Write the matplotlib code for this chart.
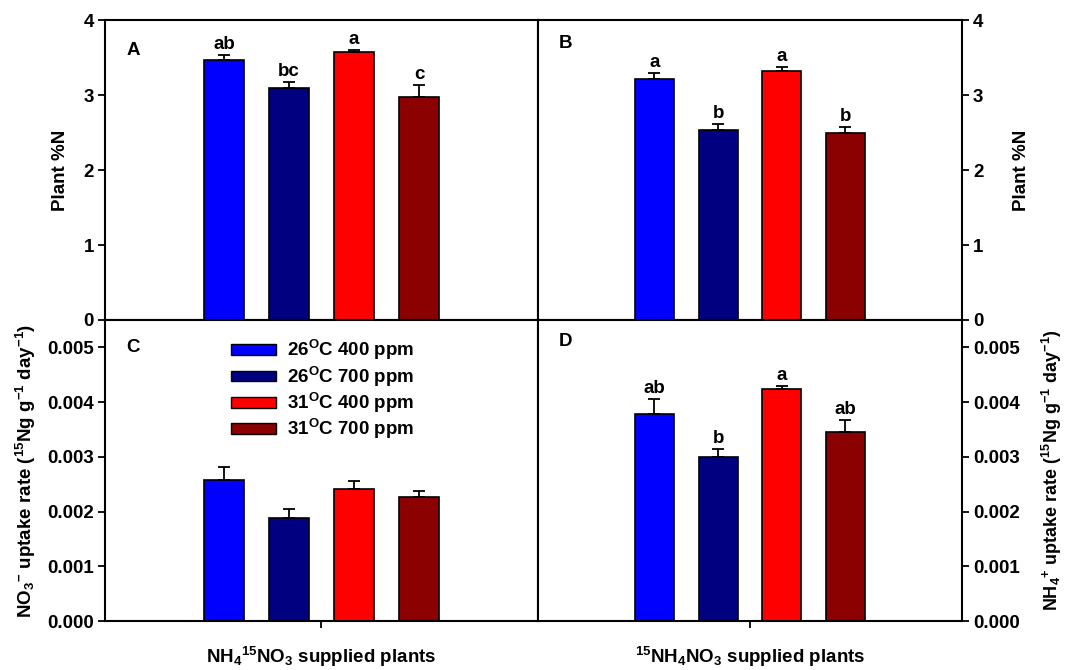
import matplotlib
matplotlib.use('Agg')
import matplotlib.pyplot as plt
from matplotlib.patches import Patch
import numpy as np

plt.rcParams['font.family'] = ['Liberation Sans', 'DejaVu Sans']
plt.rcParams['font.weight'] = 'bold'
plt.rcParams['mathtext.fontset'] = 'custom'
for k in ['rm', 'it', 'bf', 'sf']:
    plt.rcParams['mathtext.' + k] = 'Liberation Sans:bold'

# ---- data ----
treatments = ['26$^{\\mathrm{O}}$C 400 ppm', '26$^{\\mathrm{O}}$C 700 ppm',
              '31$^{\\mathrm{O}}$C 400 ppm', '31$^{\\mathrm{O}}$C 700 ppm']
colors = ['#0000FF', '#000080', '#FF0000', '#8B0000']

pctN_A = [3.47, 3.09, 3.57, 2.98]
err_A = [0.07, 0.08, 0.03, 0.15]
letters_A = ['ab', 'bc', 'a', 'c']

pctN_B = [3.22, 2.53, 3.32, 2.49]
err_B = [0.07, 0.08, 0.05, 0.08]
letters_B = ['a', 'b', 'a', 'b']

uptake_C = [0.00257, 0.00189, 0.00242, 0.00227]
err_C = [0.00025, 0.00015, 0.00014, 0.00011]
letters_C = ['', '', '', '']

uptake_D = [0.00378, 0.00300, 0.00424, 0.00345]
err_D = [0.00028, 0.00015, 0.00005, 0.00022]
letters_D = ['ab', 'b', 'a', 'ab']

xlabel_left = 'NH$_4$$^{15}$NO$_3$ supplied plants'
xlabel_right = '$^{15}$NH$_4$NO$_3$ supplied plants'
ylabel_N = 'Plant %N'
ylabel_C = 'NO$_3$$^{-}$ uptake rate ($^{15}$Ng g$^{-1}$ day$^{-1}$)'
ylabel_D = 'NH$_4$$^{+}$ uptake rate ($^{15}$Ng g$^{-1}$ day$^{-1}$)'

FS = 13.5
fig = plt.figure(figsize=(10.67, 6.70), dpi=100)
L, M, R = 0.0984, 0.5042, 0.9016
T, MID, B = 0.970, 0.5224, 0.0731
axA = fig.add_axes([L, MID, M - L, T - MID])
axB = fig.add_axes([M, MID, R - M, T - MID])
axC = fig.add_axes([L, B, M - L, MID - B])
axD = fig.add_axes([M, B, R - M, MID - B])

xpos = np.array([-1.5, -0.5, 0.5, 1.5])
width = 0.615


def draw(ax, vals, errs, letters, ylim, yticks, fmt, side, panel, py, top):
    ax.bar(xpos, vals, width=width, color=colors, edgecolor='black', linewidth=1.2, zorder=2)
    ax.errorbar(xpos, vals, yerr=[np.zeros(4), errs], fmt='none', ecolor='black',
                elinewidth=1.3, capsize=4.5, capthick=1.3, zorder=3)
    for x, v, e, t in zip(xpos, vals, errs, letters):
        if t:
            ax.annotate(t, (x, v + e), xytext=(0, 1.5), textcoords='offset points',
                        ha='center', va='bottom', fontsize=FS, fontweight='bold')
    ax.set_xlim(-3.33, 3.33)
    ax.set_ylim(*ylim)
    ax.set_yticks(yticks)
    ax.set_yticklabels([fmt.format(t) for t in yticks])
    for s in ax.spines.values():
        s.set_linewidth(1.5)
    if side == 'left':
        ax.tick_params(axis='y', left=True, right=False, labelleft=True, labelright=False,
                       direction='out', length=5, width=1.3, labelsize=FS, pad=3)
    else:
        ax.tick_params(axis='y', left=False, right=True, labelleft=False, labelright=True,
                       direction='out', length=5, width=1.3, labelsize=FS, pad=3)
    if top:
        ax.set_xticks([])
    else:
        ax.set_xticks([0])
        ax.set_xticklabels([''])
        ax.tick_params(axis='x', direction='out', length=5, width=1.3)
    ax.text(0.05, py, panel, transform=ax.transAxes, fontsize=FS, fontweight='bold',
            ha='left', va='center')


draw(axA, pctN_A, err_A, letters_A, (0, 4), [0, 1, 2, 3, 4], '{:.0f}', 'left', 'A', 0.9, True)
draw(axB, pctN_B, err_B, letters_B, (0, 4), [0, 1, 2, 3, 4], '{:.0f}', 'right', 'B', 0.923, True)
draw(axC, uptake_C, err_C, letters_C, (0, 0.0055), [0, 0.001, 0.002, 0.003, 0.004, 0.005],
     '{:.3f}', 'left', 'C', 0.91, False)
draw(axD, uptake_D, err_D, letters_D, (0, 0.0055), [0, 0.001, 0.002, 0.003, 0.004, 0.005],
     '{:.3f}', 'right', 'D', 0.927, False)

axA.set_ylabel(ylabel_N, fontsize=FS, fontweight='bold')
axA.yaxis.set_label_coords(-0.083, 0.5)
axB.yaxis.set_label_position('right')
axB.set_ylabel(ylabel_N, fontsize=FS, fontweight='bold', rotation=90)
axB.yaxis.set_label_coords(1.12, 0.5)
axC.set_ylabel(ylabel_C, fontsize=FS, fontweight='bold')
axC.yaxis.set_label_coords(-0.155, 0.5)
axD.yaxis.set_label_position('right')
axD.set_ylabel(ylabel_D, fontsize=13, fontweight='bold', rotation=90)
axD.yaxis.set_label_coords(1.183, 0.5)

axC.text(0.5, -0.12, xlabel_left, transform=axC.transAxes, ha='center', va='center',
         fontsize=FS, fontweight='bold')
axD.text(0.5, -0.12, xlabel_right, transform=axD.transAxes, ha='center', va='center',
         fontsize=FS, fontweight='bold')

handles = [Patch(facecolor=c, edgecolor='black', linewidth=1.0) for c in colors]
axC.legend(handles, treatments, loc='upper left', bbox_to_anchor=(0.29, 0.94),
           frameon=False, handlelength=2.4, handleheight=0.5,
           handletextpad=0.6, labelspacing=0.12, borderpad=0, borderaxespad=0,
           prop={'weight': 'bold', 'size': FS})

fig.savefig('out.png', dpi=100)
